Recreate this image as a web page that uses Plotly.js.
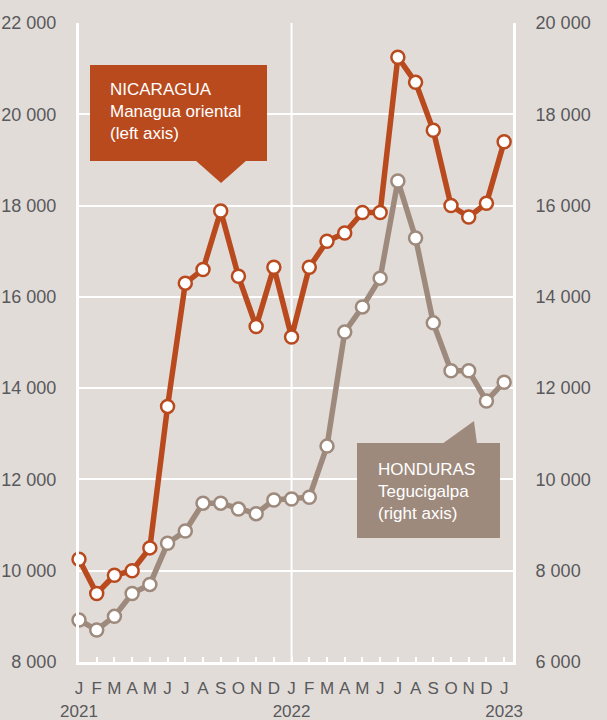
<!DOCTYPE html>
<html>
<head>
<meta charset="utf-8">
<script src="https://cdn.plot.ly/plotly-3.0.1.min.js"></script>
<style>html,body{margin:0;padding:0;background:#e2dcd9;}#chart{width:607px;height:720px;}</style>
</head>
<body>
<div id="chart"></div>
<script>
// Month index 0 = Jan 2021 ... 24 = Jan 2023
const monthLetters = ["J","F","M","A","M","J","J","A","S","O","N","D","J","F","M","A","M","J","J","A","S","O","N","D","J"];
const yearLabels = {0:"2021", 12:"2022", 24:"2023"};
const nicaragua = [10250,9500,9900,10000,10500,13600,16300,16600,17880,16450,15350,16650,15120,16650,17220,17400,17850,17850,21250,20700,19650,18000,17750,18050,19400];
const honduras = [6920,6700,7000,7500,7700,8600,8870,9480,9480,9350,9250,9550,9570,9610,10730,13230,13780,14410,16540,15290,13430,12380,12380,11720,12130];
const leftTicks = [8000,10000,12000,14000,16000,18000,20000,22000];
const rightTicks = [6000,8000,10000,12000,14000,16000,18000,20000];

const idx = monthLetters.map((_, i) => i);
const tickText = monthLetters.map((m, i) => yearLabels[i] ? m + "<br>" + yearLabels[i] : m);

const ORANGE = "#b94a1e", TAUPE = "#9e8a7c", BG = "#e2dcd9", TXT = "#58595b";
const FONT = "Liberation Sans, Arial, sans-serif";

const traces = [
  {x: idx, y: honduras, yaxis: "y2", mode: "lines+markers", name: "Honduras",
   line: {color: TAUPE, width: 5.5}, marker: {size: 13, color: "white", line: {color: TAUPE, width: 2.5}},
   cliponaxis: false, hoverinfo: "x+y"},
  {x: idx, y: nicaragua, yaxis: "y", mode: "lines+markers", name: "Nicaragua",
   line: {color: ORANGE, width: 5.5}, marker: {size: 13, color: "white", line: {color: ORANGE, width: 2.5}},
   cliponaxis: false, hoverinfo: "x+y"}
];

// pixel -> paper helpers for decorative callouts
const L = 79, R = 513, T = 23, B = 662;
const px = x => (x - L) / (R - L);
const py = y => (B - y) / (B - T);

const layout = {
  width: 607, height: 720,
  margin: {l: L, r: 607 - R, t: T, b: 720 - B},
  paper_bgcolor: BG, plot_bgcolor: BG,
  showlegend: false,
  separators: ". ",
  font: {family: FONT, color: TXT, size: 17},
  xaxis: {
    range: [0, 24.5], tickmode: "array", tickvals: idx, ticktext: tickText, tickangle: 0,
    showgrid: false, zeroline: false, showline: true, linecolor: "white", linewidth: 3,
    ticks: "inside", ticklen: 5, tickcolor: "white", tickwidth: 2,
    tickfont: {family: FONT, size: 17, color: TXT}, ticklabelstandoff: 9
  },
  yaxis: {
    range: [8000, 22000], tickmode: "array", tickvals: leftTicks, tickformat: ",",
    showgrid: true, gridcolor: "white", gridwidth: 2, zeroline: false,
    showline: true, linecolor: "white", linewidth: 3, ticks: "",
    tickfont: {family: FONT, size: 18, color: TXT}, ticklabelstandoff: 16
  },
  yaxis2: {
    range: [6000, 20000], overlaying: "y", side: "right", tickmode: "array", tickvals: rightTicks, tickformat: ",",
    showgrid: false, zeroline: false, showline: true, linecolor: "white", linewidth: 3, ticks: "",
    tickfont: {family: FONT, size: 18, color: TXT}, ticklabelstandoff: 16
  },
  shapes: [
    {type: "line", xref: "x", yref: "paper", x0: 12, x1: 12, y0: 0, y1: 1, line: {color: "white", width: 2}, layer: "below"},
    {type: "rect", xref: "paper", yref: "paper", x0: px(90), x1: px(267), y0: py(161), y1: py(65), fillcolor: ORANGE, line: {width: 0}},
    {type: "path", xref: "paper", yref: "paper",
     path: `M ${px(195)} ${py(160)} L ${px(221)} ${py(183)} L ${px(247)} ${py(160)} Z`, fillcolor: ORANGE, line: {width: 0}},
    {type: "rect", xref: "paper", yref: "paper", x0: px(357), x1: px(500), y0: py(538), y1: py(443), fillcolor: TAUPE, line: {width: 0}},
    {type: "path", xref: "paper", yref: "paper",
     path: `M ${px(442)} ${py(444)} L ${px(474)} ${py(421)} L ${px(477)} ${py(444)} Z`, fillcolor: TAUPE, line: {width: 0}}
  ],
  annotations: [
    {xref: "paper", yref: "paper", x: px(108), y: py(111), xanchor: "left", yanchor: "middle", align: "left", showarrow: false,
     text: "NICARAGUA<br>Managua oriental<br>(left axis)", font: {family: FONT, size: 17, color: "white"}},
    {xref: "paper", yref: "paper", x: px(376), y: py(491), xanchor: "left", yanchor: "middle", align: "left", showarrow: false,
     text: "HONDURAS<br>Tegucigalpa<br>(right axis)", font: {family: FONT, size: 17, color: "white"}}
  ]
};

Plotly.newPlot("chart", traces, layout, {displayModeBar: false, staticPlot: true});
</script>
</body>
</html>
